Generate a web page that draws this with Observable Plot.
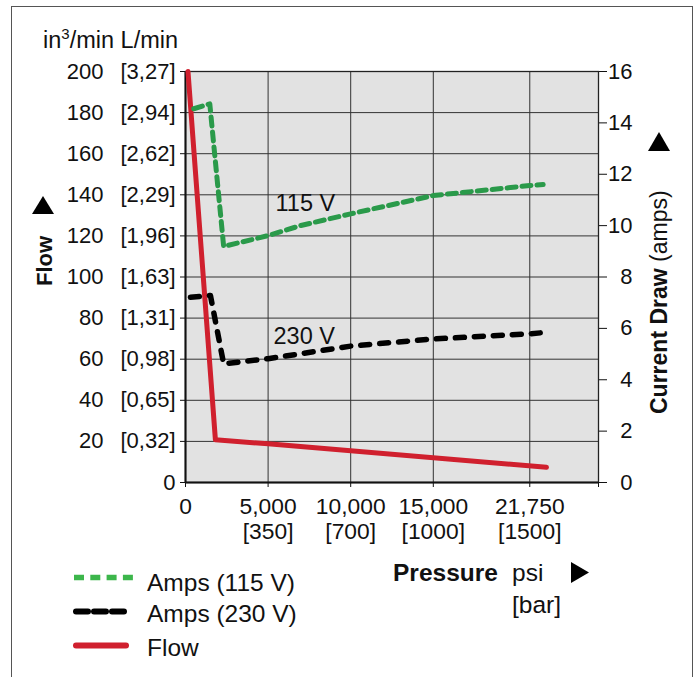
<!DOCTYPE html>
<html><head><meta charset="utf-8">
<script src="https://cdn.jsdelivr.net/npm/d3@7"></script>
<script src="https://cdn.jsdelivr.net/npm/@observablehq/plot@0.6"></script>
<style>
body{margin:0;background:#fff;font-family:"Liberation Sans",Arial,sans-serif;}
#wrap{position:relative;width:699px;height:677px;overflow:hidden;}
#border{position:absolute;left:11px;top:6px;width:682px;height:720px;border:1.5px solid #555;box-sizing:border-box;}
#chart{position:absolute;left:0;top:0;}
#over{position:absolute;left:0;top:0;}
</style></head><body>
<div id="wrap">
<div id="border"></div>
<div id="chart"></div>
<svg id="over" width="699" height="677" font-family="Liberation Sans, Arial, sans-serif" font-size="24" fill="#111">
  <text x="43" y="48" font-size="23.5">in<tspan font-size="15" dy="-9">3</tspan><tspan dy="9">/min L/min</tspan></text>
  <text transform="translate(52,286) rotate(-90)" font-weight="bold" font-size="22">Flow</text>
  <polygon points="32,214 54,214 43,196" fill="#000"/>
  <text transform="translate(667,414) rotate(-90)" font-size="23"><tspan font-weight="bold">Current Draw</tspan> (amps)</text>
  <polygon points="648,151 670,151 659,132" fill="#000"/>
  <text x="393" y="581" font-weight="bold" font-size="24.5">Pressure</text>
  <text x="512" y="581" font-size="24.5">psi</text>
  <text x="512" y="613" font-size="24.5">[bar]</text>
  <polygon points="571,562 571,583 589,572.5" fill="#000"/>
  <line x1="74" x2="133" y1="577.5" y2="577.5" stroke="#3cb64b" stroke-width="5.5" stroke-dasharray="10,6.3"/>
  <text x="147" y="591" font-size="24.5">Amps (115 V)</text>
  <line x1="76" x2="126" y1="611.5" y2="611.5" stroke="#000" stroke-width="6" stroke-linecap="round" stroke-dasharray="12,6"/>
  <text x="147" y="622" font-size="24.5">Amps (230 V)</text>
  <line x1="76" x2="126" y1="645.5" y2="645.5" stroke="#d0202e" stroke-width="6" stroke-linecap="round"/>
  <text x="147" y="656" font-size="24.5">Flow</text>
</svg>
</div>
<script>
// Amps at 115 V (psi, amps)
const pressure115 = [500, 1470, 2310, 5000, 6950, 10000, 15000, 20840, 21650];
const amps115     = [14.55, 14.74, 9.19, 9.61, 10.0, 10.46, 11.17, 11.56, 11.6];
// Amps at 230 V
const pressure230 = [300, 1510, 2310, 5000, 6950, 10000, 15000, 20840, 21940];
const amps230     = [7.21, 7.28, 4.62, 4.82, 5.01, 5.31, 5.59, 5.79, 5.85];
// Flow (in³/min)
const pressureFlow = [150, 1810, 5000, 21850];
const flowValues   = [200, 20.8, 18.8, 7.4];

// Axis ticks & labels
const flowTicks      = [0, 20, 40, 60, 80, 100, 120, 140, 160, 180, 200];
const flowTickLabels = ["", "20", "40", "60", "80", "100", "120", "140", "160", "180", "200"];
const lpmTickLabels  = ["0", "[0,32]", "[0,65]", "[0,98]", "[1,31]", "[1,63]", "[1,96]", "[2,29]", "[2,62]", "[2,94]", "[3,27]"];
const ampTicks       = [0, 2, 4, 6, 8, 10, 12, 14, 16];
const psiTicks       = [0, 5000, 10000, 15000, 20840, 25000];
const psiTickLabels  = ["0", "5,000", "10,000", "15,000", "21,750", ""];
const barTickLabels  = ["", "[350]", "[700]", "[1000]", "[1500]", ""];

// Series labels
const seriesLabels   = ["115 V", "230 V"];
const labelPressure  = [5450, 5330];
const labelAmps      = [10.85, 5.70];

const AMP_TO_FLOW = 200 / 16; // right axis 0–16 amps ↔ left 0–200 in³/min

const flowLabelMap = new Map(flowTicks.map((t, i) => [t, flowTickLabels[i]]));
const lpmLabelMap  = new Map(flowTicks.map((t, i) => [t, lpmTickLabels[i]]));
const psiLabelMap  = new Map(psiTicks.map((t, i) => [t, barTickLabels[i] ? psiTickLabels[i] + "\n" + barTickLabels[i] : psiTickLabels[i]]));

const d115 = pressure115.map((p, i) => ({p, v: amps115[i] * AMP_TO_FLOW}));
const d230 = pressure230.map((p, i) => ({p, v: amps230[i] * AMP_TO_FLOW}));
const dFlow = pressureFlow.map((p, i) => ({p, v: flowValues[i]}));
const dLabels = seriesLabels.map((t, i) => ({t, p: labelPressure[i], v: labelAmps[i] * AMP_TO_FLOW}));

const chart = Plot.plot({
  width: 699, height: 677,
  marginLeft: 185, marginRight: 101, marginTop: 71, marginBottom: 195,
  style: {fontFamily: "Liberation Sans, Arial, sans-serif", fontSize: "22px", color: "#111", background: "transparent", overflow: "visible"},
  x: {domain: [0, 25000]},
  y: {domain: [0, 200]},
  marks: [
    Plot.frame({fill: "#e2e2e2"}),
    Plot.gridX(psiTicks.slice(1, 5), {stroke: "#333", strokeOpacity: 1, strokeWidth: 1}),
    Plot.gridY(flowTicks.slice(1, 10), {stroke: "#333", strokeOpacity: 1, strokeWidth: 1}),
    Plot.frame({stroke: "#222", strokeWidth: 1.3}),
    Plot.ruleX([0], {stroke: "#111", strokeWidth: 2}),
    Plot.ruleY([0], {stroke: "#111", strokeWidth: 2}),
    Plot.axisY(flowTicks, {anchor: "left", tickSize: 5, tickPadding: 5, tickFormat: d => lpmLabelMap.get(d), label: null}),
    Plot.axisY(flowTicks, {anchor: "left", tickSize: 0, tickPadding: 82, tickFormat: d => flowLabelMap.get(d), label: null}),
    Plot.axisY(ampTicks.map(a => a * AMP_TO_FLOW), {anchor: "right", tickSize: 8, tickPadding: 26, textAnchor: "end", tickFormat: d => String(Math.round(d / AMP_TO_FLOW)), label: null}),
    Plot.axisX(psiTicks, {anchor: "bottom", tickSize: 5, tickPadding: 9, fontSize: 22.8, lineHeight: 1.1, tickFormat: d => psiLabelMap.get(d), label: null}),
    Plot.line(dFlow, {x: "p", y: "v", stroke: "#d0202e", strokeWidth: 5}),
    Plot.line(d115, {x: "p", y: "v", stroke: "#2a9a4a", strokeWidth: 5, strokeDasharray: "9,6"}),
    Plot.line(d230, {x: "p", y: "v", stroke: "#000", strokeWidth: 5.5, strokeLinecap: "round", strokeDasharray: "9,10"}),
    Plot.text(dLabels, {x: "p", y: "v", text: "t", textAnchor: "start", fill: "#111", fontSize: 23.5})
  ]
});
document.getElementById("chart").appendChild(chart);
</script>
</body></html>
